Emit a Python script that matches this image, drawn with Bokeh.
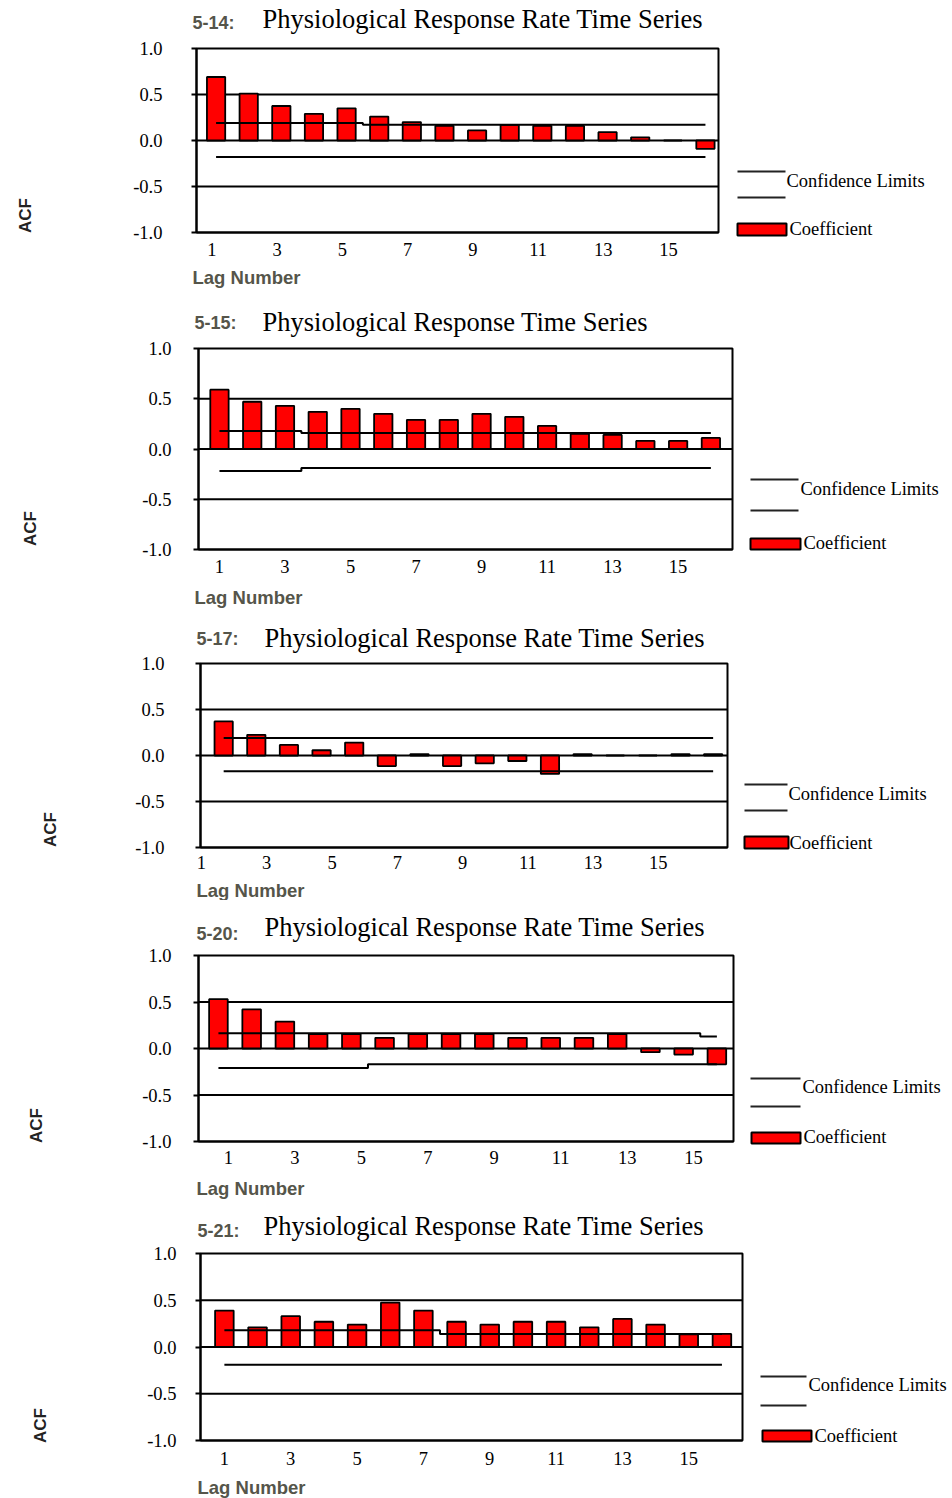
import math
from bokeh.plotting import figure
from bokeh.layouts import column
from bokeh.models import FixedTicker, Label, Arrow, BoxAnnotation, Range1d, PrintfTickFormatter
from bokeh.embed import file_html
from bokeh.resources import INLINE

# ---------------------------------------------------------------- data
LAGS = [1, 2, 3, 4, 5, 6, 7, 8, 9, 10, 11, 12, 13, 14, 15, 16]
TICK_LAGS = [1, 3, 5, 7, 9, 11, 13, 15]
Y_TICKS = [-1.0, -0.5, 0.0, 0.5, 1.0]
REF_LINES = [-0.5, 0.0, 0.5]

TAGS = ["5-14:", "5-15:", "5-17:", "5-20:", "5-21:"]
TITLES = [
    "Physiological Response Rate Time Series",
    "Physiological Response Time Series",
    "Physiological Response Rate Time Series",
    "Physiological Response Rate Time Series",
    "Physiological Response Rate Time Series",
]

ACF_514 = [0.69, 0.51, 0.375, 0.29, 0.35, 0.26, 0.20, 0.16, 0.11, 0.17, 0.16, 0.16, 0.09, 0.035, 0.0, -0.09]
UCL_514 = [0.19, 0.19, 0.19, 0.19, 0.19, 0.17, 0.17, 0.17, 0.17, 0.17, 0.17, 0.17, 0.17, 0.17, 0.17, 0.17]
LCL_514 = [-0.18, -0.18, -0.18, -0.18, -0.18, -0.18, -0.18, -0.18, -0.18, -0.18, -0.18, -0.18, -0.18, -0.18, -0.18, -0.18]

ACF_515 = [0.59, 0.47, 0.43, 0.37, 0.40, 0.35, 0.29, 0.29, 0.35, 0.32, 0.23, 0.15, 0.14, 0.08, 0.08, 0.11]
UCL_515 = [0.18, 0.18, 0.18, 0.16, 0.16, 0.16, 0.16, 0.16, 0.16, 0.16, 0.16, 0.16, 0.16, 0.16, 0.16, 0.16]
LCL_515 = [-0.22, -0.22, -0.22, -0.19, -0.19, -0.19, -0.19, -0.19, -0.19, -0.19, -0.19, -0.19, -0.19, -0.19, -0.19, -0.19]

ACF_517 = [0.37, 0.225, 0.115, 0.057, 0.14, -0.115, 0.015, -0.115, -0.085, -0.06, -0.2, 0.015, 0.0, 0.0, 0.015, 0.015]
UCL_517 = [0.19, 0.19, 0.19, 0.19, 0.19, 0.19, 0.19, 0.19, 0.19, 0.19, 0.19, 0.19, 0.19, 0.19, 0.19, 0.19]
LCL_517 = [-0.17, -0.17, -0.17, -0.17, -0.17, -0.17, -0.17, -0.17, -0.17, -0.17, -0.17, -0.17, -0.17, -0.17, -0.17, -0.17]

ACF_520 = [0.53, 0.42, 0.29, 0.155, 0.155, 0.115, 0.155, 0.155, 0.155, 0.115, 0.115, 0.115, 0.155, -0.04, -0.065, -0.17]
UCL_520 = [0.165, 0.165, 0.165, 0.165, 0.165, 0.165, 0.165, 0.165, 0.165, 0.165, 0.165, 0.165, 0.165, 0.165, 0.165, 0.13]
LCL_520 = [-0.21, -0.21, -0.21, -0.21, -0.21, -0.17, -0.17, -0.17, -0.17, -0.17, -0.17, -0.17, -0.17, -0.17, -0.17, -0.17]

ACF_521 = [0.39, 0.21, 0.33, 0.27, 0.24, 0.475, 0.39, 0.27, 0.24, 0.27, 0.27, 0.21, 0.30, 0.24, 0.135, 0.14]
UCL_521 = [0.18, 0.18, 0.18, 0.18, 0.18, 0.18, 0.18, 0.14, 0.14, 0.14, 0.14, 0.14, 0.14, 0.14, 0.14, 0.14]
LCL_521 = [-0.19, -0.19, -0.19, -0.19, -0.19, -0.19, -0.19, -0.19, -0.19, -0.19, -0.19, -0.19, -0.19, -0.19, -0.19, -0.19]

ACFS = [ACF_514, ACF_515, ACF_517, ACF_520, ACF_521]
UCLS = [UCL_514, UCL_515, UCL_517, UCL_520, UCL_521]
LCLS = [LCL_514, LCL_515, LCL_517, LCL_520, LCL_521]

# ---------------------------------------------------------------- layout
W = 952
SERIF = "Liberation Serif"
SANS = "Liberation Sans"
GREY = "#55554a"
RED = "#ff0000"
Y_LO, Y_HI = -1.0, 1.0

# pixel geometry of each panel (relative to the panel's own top edge);
# box = chart rectangle (left, top, right, bottom), xr = lag range spanned by it
LAYOUT = [
    dict(h=300, box=(196, 48, 718, 232), xr=(0.40, 16.40), shift=-0.13, ystand=29, xstand=10,
         tag=(192, 22), title=(262, 18), lag=(192, 277), acf=(25, 215),
         leg=dict(lx=(737, 785), ly=(171, 197), ct=(786, 180), rx=(737, 786), ry=(223, 235), kt=(789, 228))),
    dict(h=310, box=(198, 48, 732, 249), xr=(0.36, 16.66), shift=0.0, ystand=22, xstand=10,
         tag=(194, 22), title=(262, 21), lag=(194, 297), acf=(30, 228),
         leg=dict(lx=(750, 798), ly=(179, 210), ct=(800, 188), rx=(750, 800), ry=(238, 249), kt=(803, 242))),
    dict(h=290, box=(200, 53, 727, 237), xr=(0.29, 16.44), shift=-0.68, ystand=31, xstand=8,
         tag=(196, 28), title=(264, 27), lag=(196, 280), acf=(50, 219),
         leg=dict(lx=(744, 787), ly=(174, 200), ct=(788, 183), rx=(744, 788), ry=(226, 238), kt=(789, 232))),
    dict(h=300, box=(198, 55, 733, 241), xr=(0.40, 16.50), shift=0.30, ystand=22, xstand=9,
         tag=(196, 33), title=(264, 26), lag=(196, 288), acf=(36, 225),
         leg=dict(lx=(750, 800), ly=(178, 206), ct=(802, 186), rx=(751, 800), ry=(232, 243), kt=(803, 236))),
    dict(h=298, box=(200, 53, 742, 240), xr=(0.28, 16.62), shift=0.0, ystand=19, xstand=11,
         tag=(197, 30), title=(263, 25), lag=(197, 287), acf=(40, 225),
         leg=dict(lx=(760, 806), ly=(176, 205), ct=(808, 184), rx=(762, 811), ry=(230, 241), kt=(814, 235))),
]


def acf_panel(tag, title, acf, ucl, lcl, lay):
    L, T, R, B = lay["box"]
    H = lay["h"]
    x0, x1 = lay["xr"]

    # the plot frame covers the whole panel; the chart rectangle sits inside it
    def dx(px):
        return x0 + (px - L) / (R - L) * (x1 - x0)

    def dy(py):
        return Y_HI - (py - T) / (B - T) * (Y_HI - Y_LO)

    p = figure(width=W, height=H, x_range=Range1d(dx(0), dx(W)), y_range=Range1d(dy(H), dy(0)),
               output_backend="svg", toolbar_location=None, title=None,
               min_border=0, min_border_left=0, min_border_right=0, min_border_top=0, min_border_bottom=0)
    p.background_fill_color = "white"
    p.border_fill_color = "white"
    p.outline_line_color = None
    p.xgrid.visible = False
    p.ygrid.visible = False

    # y axis pinned to the left edge of the chart rectangle
    ya = p.yaxis[0]
    ya.fixed_location = x0
    ya.bounds = (Y_LO, Y_HI)
    ya.ticker = FixedTicker(ticks=Y_TICKS)
    ya.formatter = PrintfTickFormatter(format="%.1f")
    ya.major_label_text_font = SERIF
    ya.major_label_text_font_size = "18.5px"
    ya.major_label_text_color = "black"
    ya.major_label_standoff = lay["ystand"]
    ya.major_tick_out = 5
    ya.major_tick_in = 0
    ya.major_tick_line_width = 2
    ya.major_tick_line_color = "black"
    ya.minor_tick_line_color = None
    ya.axis_line_width = 2
    ya.axis_line_color = "black"

    # x axis pinned to the bottom edge of the chart rectangle
    xa = p.xaxis[0]
    xa.fixed_location = Y_LO
    xa.bounds = (x0, x1)
    ticks = [round(k + lay["shift"], 2) for k in TICK_LAGS]
    xa.ticker = FixedTicker(ticks=ticks)
    xa.major_label_overrides = {t: str(k) for t, k in zip(ticks, TICK_LAGS)}
    xa.major_label_text_font = SERIF
    xa.major_label_text_font_size = "18.5px"
    xa.major_label_text_color = "black"
    xa.major_label_standoff = lay["xstand"]
    xa.major_tick_line_color = None
    xa.major_tick_out = 0
    xa.major_tick_in = 0
    xa.minor_tick_line_color = None
    xa.axis_line_width = 2
    xa.axis_line_color = "black"

    # reference lines at -0.5, 0 and 0.5 across the chart rectangle
    p.segment(x0=[x0] * len(REF_LINES), x1=[x1] * len(REF_LINES), y0=REF_LINES, y1=REF_LINES,
              line_color="black", line_width=2)

    # coefficients and confidence limits
    p.vbar(x=LAGS, top=acf, bottom=0, width=0.56, fill_color=RED, line_color="black", line_width=1.8)
    p.step(x=LAGS, y=ucl, mode="center", line_color="black", line_width=2)
    p.step(x=LAGS, y=lcl, mode="center", line_color="black", line_width=2)

    # chart rectangle border
    p.add_layout(BoxAnnotation(left=x0, right=x1, bottom=Y_LO, top=Y_HI, fill_color=None,
                               line_color="black", line_width=2, line_alpha=1.0))

    # header and axis captions
    tx, ty = lay["tag"]
    p.add_layout(Label(x=dx(tx), y=dy(ty), text=tag, text_font=SANS, text_font_style="bold",
                       text_font_size="18px", text_color=GREY, text_baseline="middle", text_align="left"))
    hx, hy = lay["title"]
    p.add_layout(Label(x=dx(hx), y=dy(hy), text=title, text_font=SERIF, text_font_size="26.5px",
                       text_color="black", text_baseline="middle", text_align="left"))
    lx, ly = lay["lag"]
    p.add_layout(Label(x=dx(lx), y=dy(ly), text="Lag Number", text_font=SANS, text_font_style="bold",
                       text_font_size="18.5px", text_color=GREY, text_baseline="middle", text_align="left"))
    ax, ay = lay["acf"]
    p.add_layout(Label(x=dx(ax), y=dy(ay), text="ACF", text_font=SANS, text_font_style="bold",
                       text_font_size="17px", text_color="#222222", angle=math.pi / 2,
                       text_baseline="middle", text_align="center"))

    # legend
    lg = lay["leg"]
    for yy in lg["ly"]:
        p.add_layout(Arrow(start=None, end=None, x_start=dx(lg["lx"][0]), x_end=dx(lg["lx"][1]),
                           y_start=dy(yy), y_end=dy(yy), line_color="#222222", line_width=2.2))
    p.add_layout(Label(x=dx(lg["ct"][0]), y=dy(lg["ct"][1]), text="Confidence Limits", text_font=SERIF,
                       text_font_size="18.5px", text_color="black", text_baseline="middle", text_align="left"))
    p.add_layout(BoxAnnotation(left=dx(lg["rx"][0]), right=dx(lg["rx"][1]),
                               top=dy(lg["ry"][0]), bottom=dy(lg["ry"][1]),
                               fill_color=RED, fill_alpha=1.0, line_color="black", line_width=2, line_alpha=1.0))
    p.add_layout(Label(x=dx(lg["kt"][0]), y=dy(lg["kt"][1]), text="Coefficient", text_font=SERIF,
                       text_font_size="18.5px", text_color="black", text_baseline="middle", text_align="left"))
    return p


panels = [acf_panel(TAGS[i], TITLES[i], ACFS[i], UCLS[i], LCLS[i], LAYOUT[i]) for i in range(5)]
page = column(*panels, spacing=0)

open("out.html", "w").write(file_html(page, INLINE))
